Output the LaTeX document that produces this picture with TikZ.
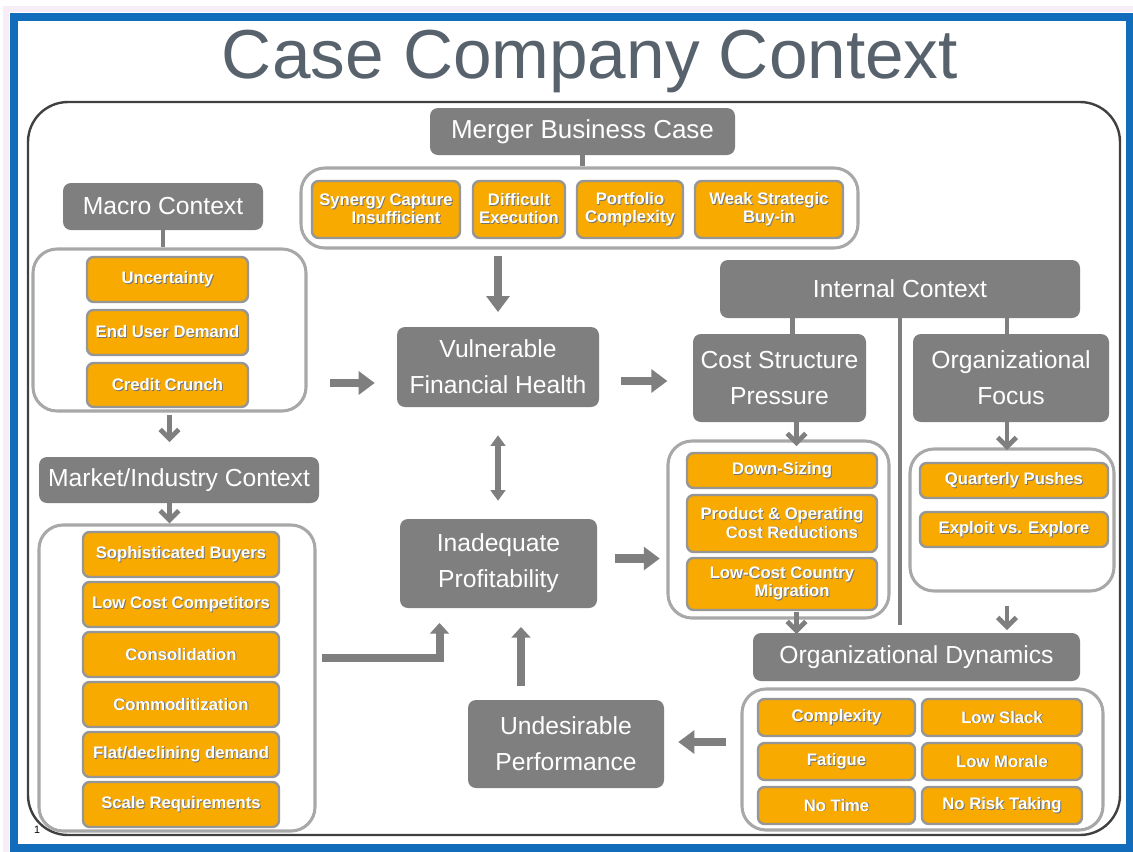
\documentclass[tikz,border=0pt]{standalone}
\usepackage{fontspec}
\setmainfont{Liberation Sans}
\usetikzlibrary{arrows.meta,calc,positioning}

\definecolor{boxgray}{RGB}{127,127,127}
\definecolor{itemorange}{RGB}{248,170,0}
\definecolor{itemedge}{RGB}{150,150,150}
\definecolor{grpedge}{RGB}{168,168,168}
\definecolor{framedark}{RGB}{64,64,64}
\definecolor{slideblue}{RGB}{18,108,188}
\definecolor{titlegray}{RGB}{88,98,108}

% white text with a dark drop shadow
\newcommand{\shtxt}[1]{\leavevmode\rlap{\textcolor{black!55}{\kern0.7pt\raisebox{-0.7pt}{#1}}}#1}

\tikzset{
  boxat/.style args={#1/#2/#3/#4}{at={({(#1+#3)/2},{(#2+#4)/2})},
    minimum width={(#3-#1)*0.75pt}, minimum height={(#4-#2)*0.75pt}},
  headbox/.style={fill=boxgray, rounded corners=6pt, inner sep=0pt, text=white,
    align=center, font=\fontsize{18.5}{27}\selectfont},
  itembox/.style={fill=itemorange, draw=itemedge, line width=1.8pt, rounded corners=5pt,
    inner sep=0pt, text=white, align=center, font=\fontsize{12.5}{13.5}\selectfont\bfseries},
  groupbox/.style={draw=grpedge, fill=white, line width=2.3pt, rounded corners=18pt, inner sep=0pt},
  link/.style={draw=boxgray, line width=3.6pt},
  bigarrow/.style={draw=boxgray, line width=6.5pt, -{Triangle[length=12pt,width=17pt]}},
  medarrow/.style={draw=boxgray, line width=6pt, -{Triangle[length=8pt,width=14pt]}},
  twoarrow/.style={draw=boxgray, line width=4.5pt, {Triangle[length=8pt,width=11pt]}-{Triangle[length=8pt,width=11pt]}},
  smallarrow/.style={draw=boxgray, line width=3.6pt, -{Straight Barb[length=7pt,width=14pt]}}
}

\begin{document}
\begin{tikzpicture}[x=0.75pt,y=-0.75pt]
\useasboundingbox (0,0) rectangle (1133,851);
% slide frame
\fill[white] (0,0) rectangle (1133,851);
\draw[violet!7, line width=5pt] (6,9) rectangle (1137,855);
\draw[slideblue, line width=5.5pt] (14,17) rectangle (1130,848);
\node[font=\fontsize{52}{60}\selectfont, text=titlegray] (title) at (590,61) {Case Company Context};
\draw[framedark, line width=1.8pt, rounded corners=30pt] (28,102) rectangle (1120,835);
\node[font=\fontsize{8}{9}\selectfont] (pagenum) at (37,830) {1};

% groups
\node[groupbox, boxat=301/168/858/248] (mergergrp) {};
\node[groupbox, boxat=33/249/306/411] (macrogrp) {};
\node[groupbox, boxat=39/525/315/831] (marketgrp) {};
\node[groupbox, boxat=668/441/889/618] (costgrp) {};
\node[groupbox, boxat=910/449/1114/591] (focusgrp) {};
\node[groupbox, boxat=742/689/1103/830] (dyngrp) {};

% headings
\node[headbox, boxat=430/108/735/155, font=\fontsize{19.5}{27}\selectfont] (mbc) {Merger Business Case};
\node[headbox, boxat=63/183/263/230] (macro) {Macro Context};
\node[headbox, boxat=720/260/1080/318] (internal) {Internal Context};
\node[headbox, boxat=397/327/599/407] (vfh) {Vulnerable\\Financial Health};
\node[headbox, boxat=693/334/866/422] (csp) {Cost Structure\\Pressure};
\node[headbox, boxat=913/334/1109/422] (orgfocus) {Organizational\\Focus};
\node[headbox, boxat=39/457/319/503] (market) {Market/Industry Context};
\node[headbox, boxat=400/519/597/608] (inadq) {Inadequate\\Profitability};
\node[headbox, boxat=753/633/1080/681] (orgdyn) {Organizational Dynamics};
\node[headbox, boxat=468/700/664/788] (undes) {Undesirable\\Performance};

% merger items
\node[itembox, boxat=312/181/460/238] (syn) {\shtxt{Synergy Capture}\\\hspace{1.2em}\shtxt{Insufficient}};
\node[itembox, boxat=473/181/565/238] (dif) {\shtxt{Difficult}\\\shtxt{Execution}};
\node[itembox, boxat=577/181/683/238] (port) {\shtxt{Portfolio}\\\shtxt{Complexity}};
\node[itembox, boxat=695/181/843/238] (weak) {\shtxt{Weak Strategic}\\\shtxt{Buy-in}};

% macro items
\node[itembox, boxat=87/257/248/302] (unc) {\shtxt{Uncertainty}};
\node[itembox, boxat=87/310/248/355] (eud) {\shtxt{End User Demand}};
\node[itembox, boxat=87/363/248/407] (crc) {\shtxt{Credit Crunch}};

% market items
\node[itembox, boxat=83/532/279/577] (soph) {\shtxt{Sophisticated Buyers}};
\node[itembox, boxat=83/582/279/627] (lcc) {\shtxt{Low Cost Competitors}};
\node[itembox, boxat=83/632/279/677] (cons) {\shtxt{Consolidation}};
\node[itembox, boxat=83/682/279/727] (comm) {\shtxt{Commoditization}};
\node[itembox, boxat=83/732/279/777] (flat) {\shtxt{Flat/declining demand}};
\node[itembox, boxat=83/782/279/827] (scale) {\shtxt{Scale Requirements}};

% cost items
\node[itembox, boxat=687/453/877/488] (down) {\shtxt{Down-Sizing}};
\node[itembox, boxat=687/495/877/552] (prod) {\shtxt{Product \& Operating}\\\hspace{1.2em}\shtxt{Cost Reductions}};
\node[itembox, boxat=687/558/877/610] (lccm) {\shtxt{Low-Cost Country}\\\hspace{1.2em}\shtxt{Migration}};

% focus items
\node[itembox, boxat=920/463/1108/498] (qp) {\shtxt{Quarterly Pushes}};
\node[itembox, boxat=920/512/1108/547] (expl) {\shtxt{Exploit vs. Explore}};

% dynamics items
\node[itembox, boxat=758/699/915/736] (cplx) {\shtxt{Complexity}};
\node[itembox, boxat=922/699/1082/736] (slack) {\shtxt{Low Slack}};
\node[itembox, boxat=758/743/915/780] (fat) {\shtxt{Fatigue}};
\node[itembox, boxat=922/743/1082/780] (morale) {\shtxt{Low Morale}};
\node[itembox, boxat=758/787/915/824] (notime) {\shtxt{No Time}};
\node[itembox, boxat=922/787/1082/824] (norisk) {\shtxt{No Risk Taking}};

% helper points
\coordinate (a1) at ($(vfh.west)+(0,16)$);
\coordinate (a2) at ($(vfh.east)+(0,14)$);
\coordinate (a3) at ($(inadq.east)+(0,-5)$);
\coordinate (a4) at ($(undes.east)+(0,-2)$);
\coordinate (c1) at ($(csp.north)+(13,0)$);
\coordinate (c2) at ($(csp.south)+(17,0)$);
\coordinate (c3) at ($(orgfocus.north)+(-4,0)$);
\coordinate (sepend) at (900,625);

% links
\draw[link] (mbc.south) -- (mbc.south |- mergergrp.north);
\draw[link] (macro.south) -- (macro.south |- macrogrp.north);
\draw[link] (c1) -- (c1 |- internal.south);
\draw[link] (c3) -- (c3 |- internal.south);
\draw[link, line width=3pt] (sepend |- internal.south) -- (sepend);

% arrows
\draw[bigarrow, shorten <=17pt, shorten >=16.5pt] (a1 -| macrogrp.east) -- (a1);
\draw[bigarrow, shorten <=16.5pt, shorten >=19pt] (a2) -- (a2 -| csp.west);
\draw[bigarrow, shorten <=13pt, shorten >=5pt] (a3) -- (a3 -| costgrp.west);
\draw[bigarrow, shorten <=5pt, shorten >=11pt] (vfh.north |- mergergrp.south) -- (vfh.north);
\draw[twoarrow, shorten <=21pt, shorten >=13.5pt] (vfh.south) -- (vfh.south |- inadq.north);
\draw[medarrow, shorten >=11pt] ($(marketgrp.east)+(5,-20)$) -| ($(inadq.south)+(-59,0)$);
\draw[medarrow, shorten <=10pt, shorten >=14pt] ($(undes.north)+(-45,0)$) -- ($(inadq.south)+(22.5,0)$);
\draw[bigarrow, shorten <=11pt, shorten >=10.5pt] (a4 -| dyngrp.west) -- (a4);
\draw[smallarrow, shorten <=2pt, shorten >=11pt] (macrogrp.south) -- (macrogrp.south |- market.north);
\draw[smallarrow] (macrogrp.south |- market.south) -- (macrogrp.south |- marketgrp.north);
\draw[smallarrow, shorten >=-5pt] (c2) -- (c2 |- costgrp.north);
\draw[smallarrow, shorten >=-2pt] (c3 |- orgfocus.south) -- (c3 |- focusgrp.north);
\draw[smallarrow, shorten <=-6pt, shorten >=-1pt] (c2 |- costgrp.south) -- (c2 |- orgdyn.north);
\draw[smallarrow, shorten <=10pt, shorten >=2pt] (c3 |- focusgrp.south) -- (c3 |- orgdyn.north);
\end{tikzpicture}
\end{document}
